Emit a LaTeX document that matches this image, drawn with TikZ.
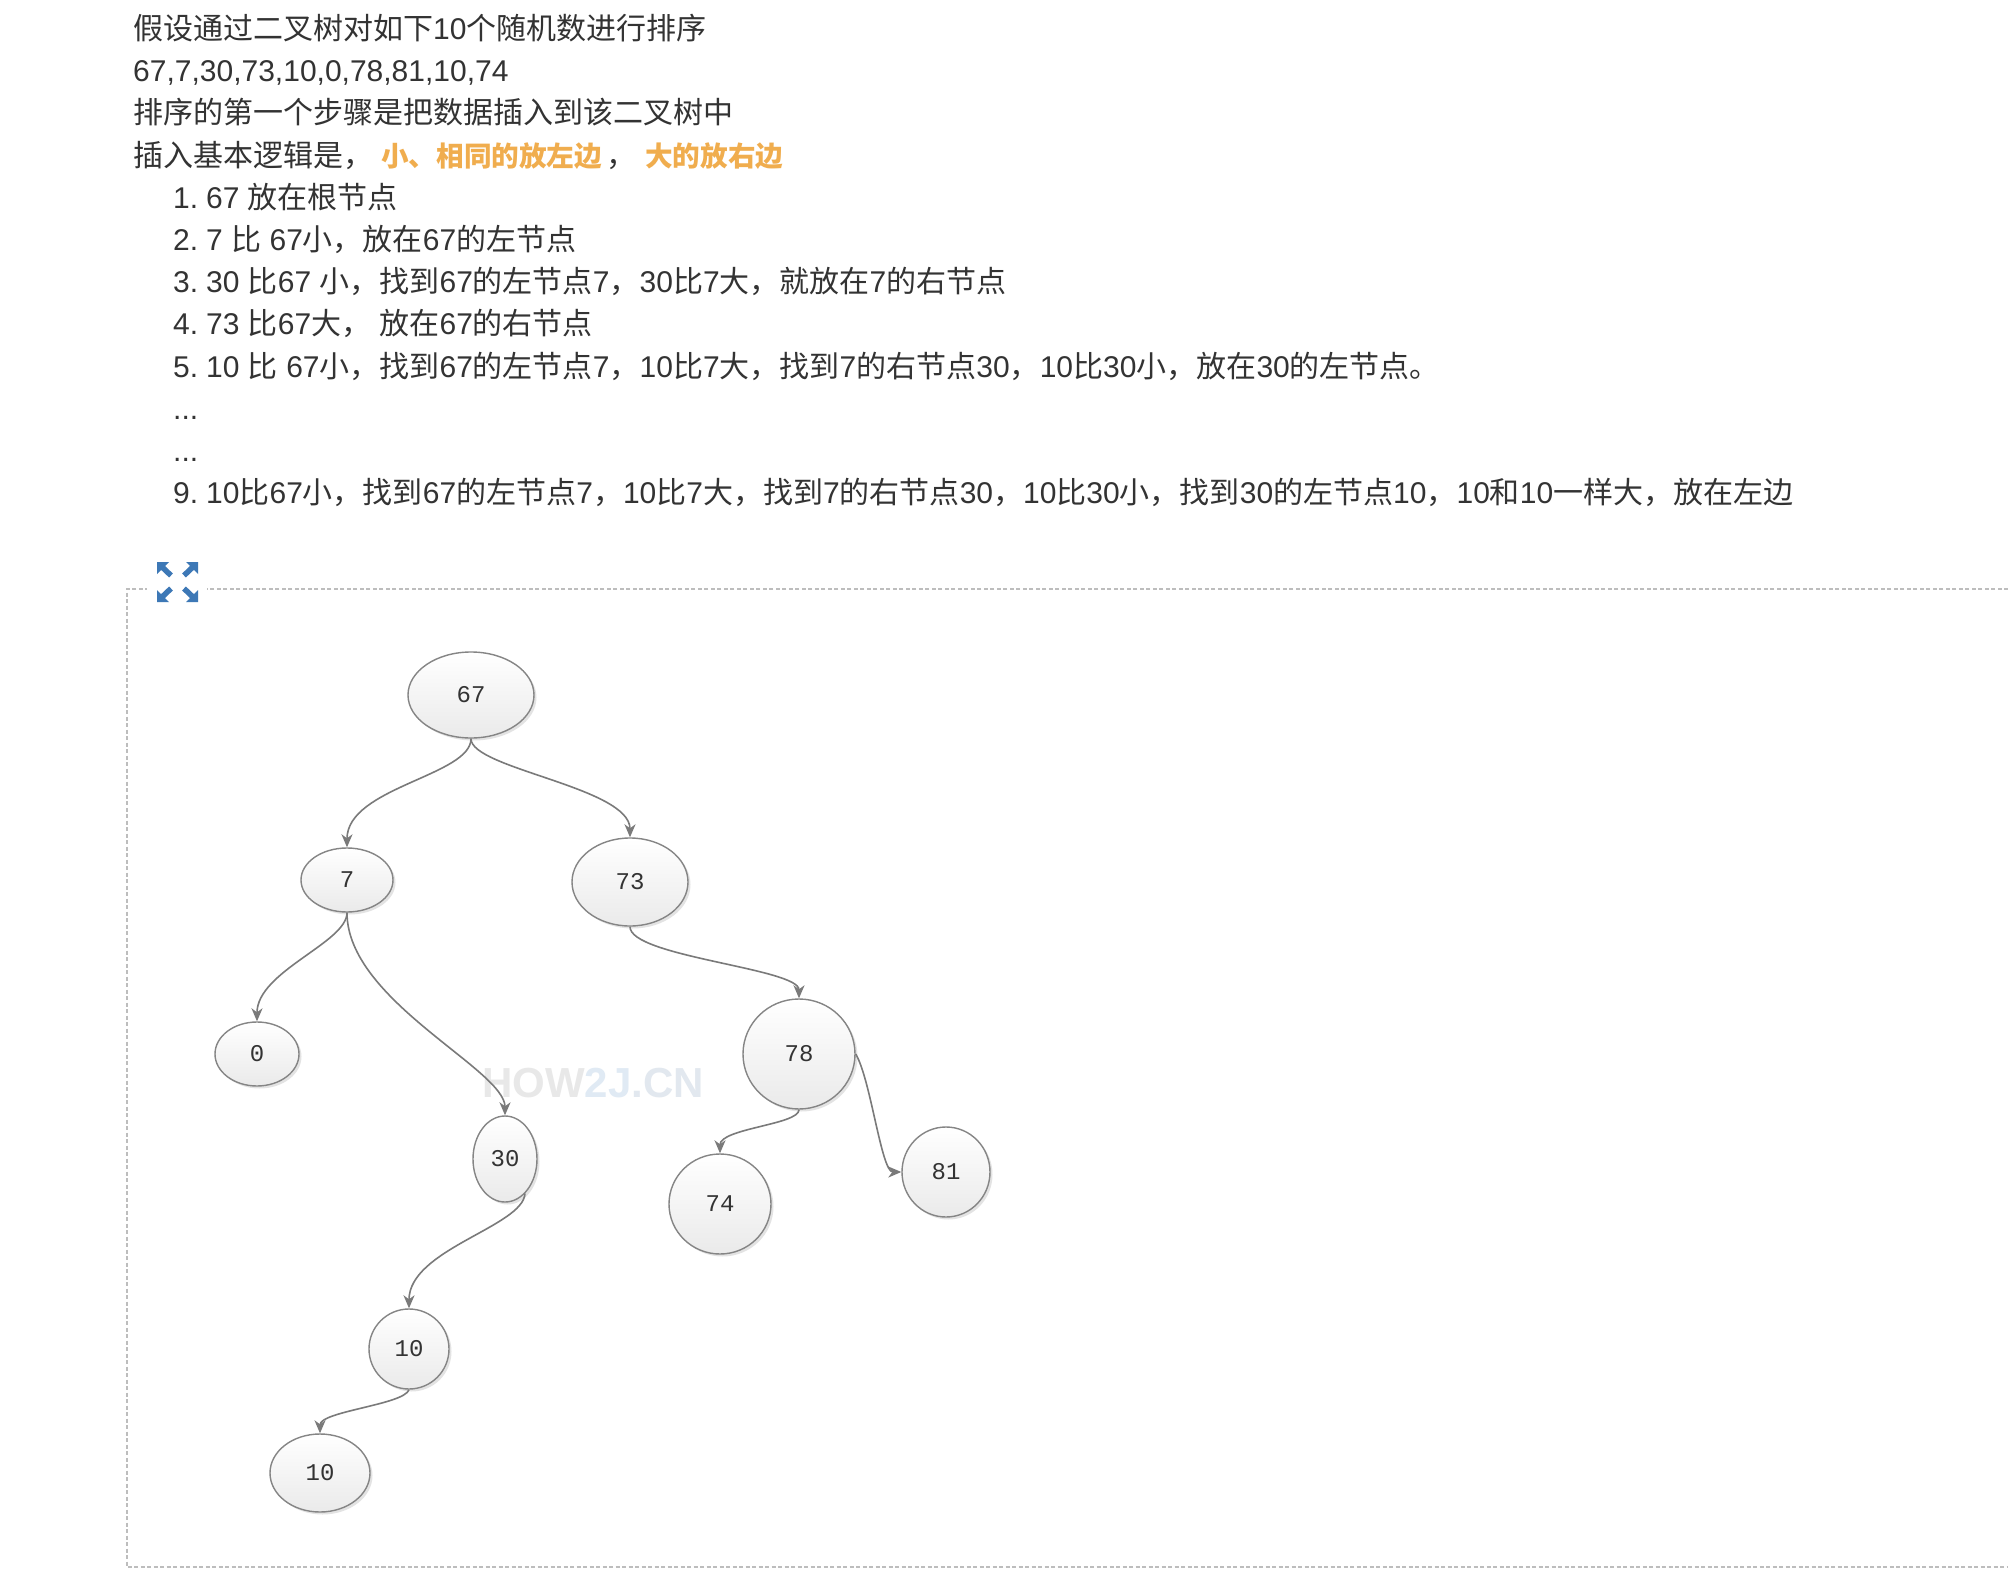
\documentclass[tikz,border=0pt]{standalone}
\usepackage{fontspec}
\setmainfont{Liberation Sans}
\newfontfamily\cjk{Noto Sans CJK SC}
\newfontfamily\nodefont{Liberation Mono}
\usetikzlibrary{arrows.meta,shapes.geometric,shadows}
\definecolor{txt}{HTML}{333333}
\definecolor{hl}{HTML}{F0AD4E}
\definecolor{edgec}{HTML}{7A7A7A}
\definecolor{nodeb}{HTML}{858585}
\definecolor{nodeg}{HTML}{EAEAEA}
\definecolor{framec}{HTML}{BDBDBD}
\definecolor{iconc}{HTML}{3D78B6}
\definecolor{wmg}{HTML}{E8E8E8}
\definecolor{wmb}{HTML}{E0EAF4}
\definecolor{wmc}{HTML}{E2E8EF}
\newcommand\D[1]{{\rmfamily #1}}
\newcommand\mk[1]{{\rmfamily #1}\hspace{8pt}}
\tikzset{
  line/.style={anchor=base west, inner sep=0pt, text=txt, font=\cjk\fontsize{30}{36}\selectfont},
  hltext/.style={anchor=base west, inner sep=0pt, text=hl, font=\cjk\bfseries\fontsize{27.6}{33}\selectfont},
  enode/.style={ellipse, draw=nodeb, line width=1.4pt, top color=white, bottom color=nodeg,
    drop shadow={shadow xshift=2.5pt, shadow yshift=-2.5pt, opacity=0.18, fill=black!60},
    text=txt, font=\nodefont\fontsize{24}{26}\selectfont, inner sep=0pt},
  conn/.style={draw=edgec, line width=1.6pt, -{Stealth[length=13pt,width=11pt,inset=4pt]}},
}
\begin{document}
\begin{tikzpicture}[x=1pt,y=-1pt]
\useasboundingbox (0,0) rectangle (2008,1578);
\fill[white] (0,0) rectangle (2008,1578);

% text block
\node[line] (t1) at (133,39.5) {假设通过二叉树对如下\D{10}个随机数进行排序};
\node[line] (t2) at (133,81.7) {\D{67,7,30,73,10,0,78,81,10,74}};
\node[line] (t3) at (133,123.9) {排序的第一个步骤是把数据插入到该二叉树中};
\node[line] (t4) at (133,166.1) {插入基本逻辑是，};
\node[hltext] (h1) at (381,166.1) {小、相同的放左边};
\node[line] (cm) at (606,166.1) {，};
\node[hltext] (h2) at (645,166.1) {大的放右边};
\node[line] (t5) at (173,208.3) {\mk{1.}\D{67 }放在根节点};
\node[line] (t6) at (173,250.5) {\mk{2.}\D{7 }比\D{ 67}小，放在\D{67}的左节点};
\node[line] (t7) at (173,292.7) {\mk{3.}\D{30 }比\D{67 }小，找到\D{67}的左节点\D{7}，\D{30}比\D{7}大，就放在\D{7}的右节点};
\node[line] (t8) at (173,334.9) {\mk{4.}\D{73 }比\D{67}大，\D{ }放在\D{67}的右节点};
\node[line] (t9) at (173,377.1) {\mk{5.}\D{10 }比\D{ 67}小，找到\D{67}的左节点\D{7}，\D{10}比\D{7}大，找到\D{7}的右节点\D{30}，\D{10}比\D{30}小，放在\D{30}的左节点。};
\node[line] (t10) at (173,419.3) {\D{...}};
\node[line] (t11) at (173,461.5) {\D{...}};
\node[line] (t12) at (173,503.7) {\mk{9.}\D{10}比\D{67}小，找到\D{67}的左节点\D{7}，\D{10}比\D{7}大，找到\D{7}的右节点\D{30}，\D{10}比\D{30}小，找到\D{30}的左节点\D{10}，\D{10}和\D{10}一样大，放在左边};

% dashed frame
\draw[framec, line width=1.3pt, dash pattern=on 4pt off 2.5pt] (2008,589) -- (127,589) -- (127,1567) -- (2008,1567);
\fill[white] (147,578) rectangle (207,600);
% expand icon
\foreach \cx/\cy/\sx/\sy in {157/562/1/1, 198/562/-1/1, 157/602/1/-1, 198/602/-1/-1}{
  \begin{scope}[shift={(\cx,\cy)}, xscale=\sx, yscale=\sy]
    \fill[iconc] (0,0) -- (12,0) -- (0,12) -- cycle;
    \draw[iconc, line width=5.5pt] (4,4) -- (14,13.5);
  \end{scope}
}

% watermark
\node[anchor=base west, inner sep=0pt, font=\bfseries\fontsize{42}{44}\selectfont] (wm) at (482,1097)
  {\textcolor{wmg}{HOW}\textcolor{wmb}{2J}\textcolor{wmc}{.CN}};

% tree nodes
\node[enode, minimum width=126pt, minimum height=86pt] (n67) at (471,695) {67};
\node[enode, minimum width=92pt, minimum height=64pt] (n7) at (347,880) {7};
\node[enode, minimum width=116pt, minimum height=88pt] (n73) at (630,882) {73};
\node[enode, minimum width=84pt, minimum height=64pt] (n0) at (257,1054) {0};
\node[enode, minimum width=64pt, minimum height=86pt] (n30) at (505,1159) {30};
\node[enode, minimum width=112pt, minimum height=110pt] (n78) at (799,1054) {78};
\node[enode, minimum width=102pt, minimum height=100pt] (n74) at (720,1204) {74};
\node[enode, minimum width=88pt, minimum height=90pt] (n81) at (946,1172) {81};
\node[enode, minimum width=80pt, minimum height=80pt] (n10a) at (409,1349) {10};
\node[enode, minimum width=100pt, minimum height=78pt] (n10b) at (320,1473) {10};

% connectors
\draw[conn] (n67.south) .. controls +(0,37) and +(0,-60) .. (n7.north);
\draw[conn] (n67.south) .. controls +(0,30) and +(0,-50) .. (n73.north);
\draw[conn] (n7.south) .. controls +(0,30) and +(0,-50) .. (n0.north);
\draw[conn] (n7.south) .. controls +(0,88) and +(0,-46) .. (n30.north);
\draw[conn] (n73.south) .. controls +(0,30) and +(0,-30) .. (n78.north);
\draw[conn] (n78.south) .. controls +(0,15) and +(0,-25) .. (n74.north);
\draw[conn] (n78.east) .. controls +(15,25) and +(-20,0) .. (n81.west);
\draw[conn] (n30.-60) .. controls +(-2,33) and +(0,-59) .. (n10a.north);
\draw[conn] (n10a.south) .. controls +(-5,15) and +(0,-22) .. (n10b.north);
\end{tikzpicture}
\end{document}
